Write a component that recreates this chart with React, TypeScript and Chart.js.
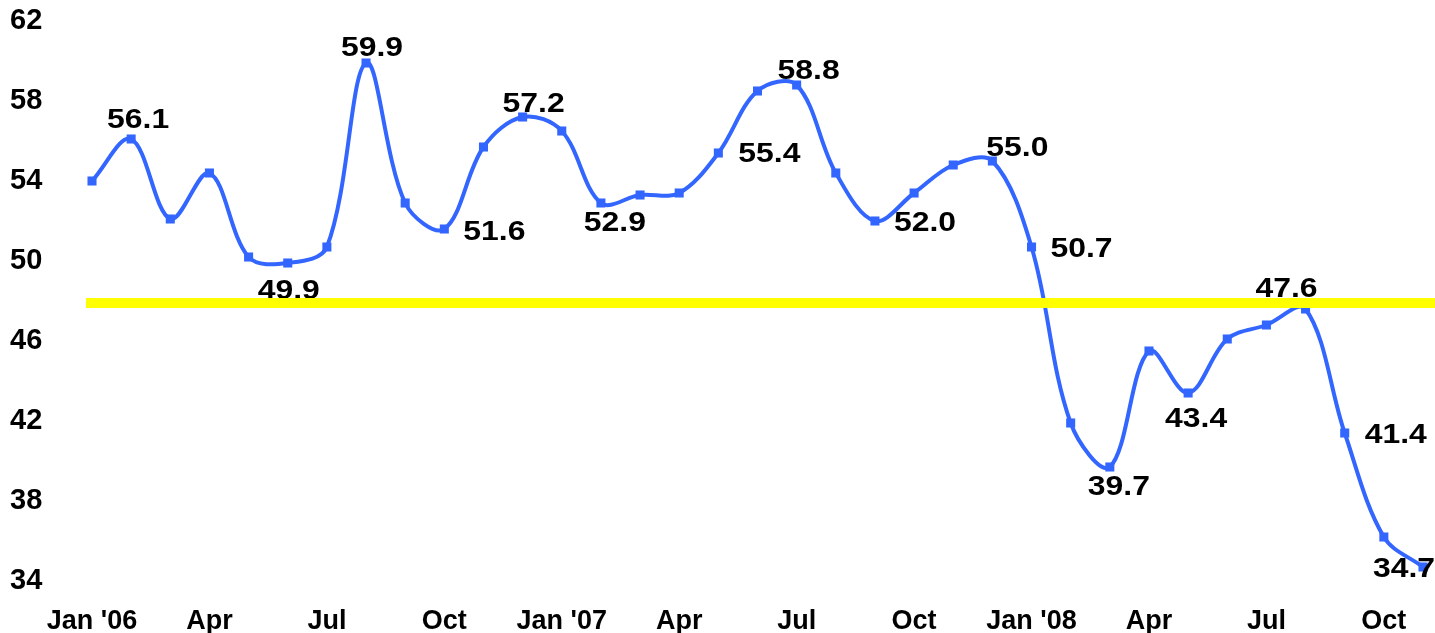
import React, { useEffect, useRef } from "react";
import { Chart, registerables } from "chart.js";

Chart.register(...registerables);

const categories = [
  "Jan 2006", "Feb 2006", "Mar 2006", "Apr 2006", "May 2006", "Jun 2006",
  "Jul 2006", "Aug 2006", "Sep 2006", "Oct 2006", "Nov 2006", "Dec 2006",
  "Jan 2007", "Feb 2007", "Mar 2007", "Apr 2007", "May 2007", "Jun 2007",
  "Jul 2007", "Aug 2007", "Sep 2007", "Oct 2007", "Nov 2007", "Dec 2007",
  "Jan 2008", "Feb 2008", "Mar 2008", "Apr 2008", "May 2008", "Jun 2008",
  "Jul 2008", "Aug 2008", "Sep 2008", "Oct 2008", "Nov 2008",
];

const values = [
  54.0, 56.1, 52.1, 54.4, 50.2, 49.9, 50.7, 59.9, 52.9, 51.6, 55.7, 57.2,
  56.5, 52.9, 53.3, 53.4, 55.4, 58.5, 58.8, 54.4, 52.0, 53.4, 54.8, 55.0,
  50.7, 41.9, 39.7, 45.5, 43.4, 46.1, 46.8, 47.6, 41.4, 36.2, 34.7,
];

const quarterTickLabels = [
  "Jan '06", "Apr", "Jul", "Oct",
  "Jan '07", "Apr", "Jul", "Oct",
  "Jan '08", "Apr", "Jul", "Oct",
];

const yTicks = [34, 38, 42, 46, 50, 54, 58, 62];

const threshold = 47.9;

// indices of points that carry a value label
const labelledPoints = [1, 5, 7, 9, 11, 13, 16, 18, 20, 23, 24, 26, 28, 31, 32, 34];
// label placement (pixel offsets of label centre from its point)
const labelOffsets: [number, number][] = [
  [7, -20], [1, 27], [6, -16], [50, 2], [11, -14], [14, 19], [51, 0], [12, -15],
  [50, 1], [25, -14], [50, 1], [9, 19], [8, 25], [-19, -21], [51, 1], [-19, 1],
];

const LINE_BLUE = "#3366FF";
const FONT_FAMILY = "'Liberation Sans', Arial, sans-serif";

const overlayPlugin = {
  id: "overlay",
  afterDatasetsDraw(chart: any) {
    const ctx = chart.ctx;
    const meta = chart.getDatasetMeta(0);
    ctx.save();
    ctx.fillStyle = "#000000";
    ctx.font = `bold 28px ${FONT_FAMILY}`;
    ctx.textAlign = "center";
    ctx.textBaseline = "middle";
    labelledPoints.forEach((idx, k) => {
      const pt = meta.data[idx];
      if (!pt) return;
      const [dx, dy] = labelOffsets[k];
      const x = pt.x + dx;
      const y = pt.y + dy;
      ctx.save();
      ctx.translate(x, y);
      ctx.scale(1.14, 1);
      ctx.fillText(values[idx].toFixed(1), 0, 1);
      ctx.restore();
    });
    // threshold line
    const ys = chart.scales.y;
    const yy = ys.getPixelForValue(threshold);
    ctx.fillStyle = "#FFFF00";
    ctx.fillRect(chart.chartArea.left - 6, yy - 5, chart.width - (chart.chartArea.left - 6), 10);
    ctx.restore();
  },
};

export default function App() {
  const canvasRef = useRef<HTMLCanvasElement | null>(null);

  useEffect(() => {
    const canvas = canvasRef.current;
    if (!canvas) return;
    const chart = new Chart(canvas, {
      type: "line",
      data: {
        labels: categories,
        datasets: [
          {
            data: values,
            borderColor: LINE_BLUE,
            backgroundColor: LINE_BLUE,
            borderWidth: 4,
            pointStyle: "rect",
            pointRadius: 6.4,
            pointBorderWidth: 0,
            pointBackgroundColor: LINE_BLUE,
            tension: 0.35,
            fill: false,
            clip: false as any,
          },
        ],
      },
      options: {
        responsive: false,
        animation: false,
        events: [],
        layout: { padding: { left: 10, right: 12, top: 21, bottom: 0 } },
        plugins: {
          legend: { display: false },
          tooltip: { enabled: false },
          title: { display: false },
        },
        scales: {
          x: {
            type: "category",
            grid: { display: false, drawTicks: false },
            border: { display: false },
            afterFit: (scale: any) => {
              scale.height = 52;
              scale.paddingLeft = 0;
              scale.paddingRight = 0;
            },
            ticks: {
              autoSkip: false,
              maxRotation: 0,
              minRotation: 0,
              padding: 24,
              color: "#000000",
              font: { family: FONT_FAMILY, size: 27, weight: "bold" },
              callback: (_v: any, i: number) =>
                i % 3 === 0 ? quarterTickLabels[i / 3] : "",
            },
          },
          y: {
            min: yTicks[0],
            max: yTicks[yTicks.length - 1],
            grid: { display: false, drawTicks: false },
            border: { display: false },
            afterFit: (scale: any) => {
              scale.width = 82;
              scale.paddingTop = 0;
              scale.paddingBottom = 0;
            },
            afterBuildTicks: (scale: any) => {
              scale.ticks = yTicks.map((v) => ({ value: v }));
            },
            ticks: {
              crossAlign: "far",
              padding: 0,
              color: "#000000",
              font: { family: FONT_FAMILY, size: 29, weight: "bold" },
              callback: (v: any) => String(v),
            },
          },
        },
      },
      plugins: [overlayPlugin],
    });
    return () => chart.destroy();
  }, []);

  return (
    <div style={{ position: "fixed", left: 0, top: 0, width: 1435, height: 633, background: "#ffffff" }}>
      <canvas ref={canvasRef} width={1435} height={633} style={{ display: "block" }} />
    </div>
  );
}
